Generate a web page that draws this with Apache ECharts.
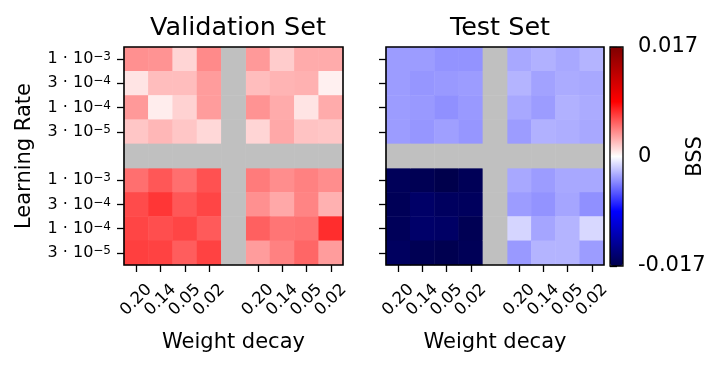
<!DOCTYPE html>
<html>
<head>
<meta charset="utf-8">
<script src="https://cdn.jsdelivr.net/npm/echarts@6/dist/echarts.min.js"></script>
<style>
  html, body { margin: 0; padding: 0; background: #fff; }
  #chart { width: 723px; height: 365px; }
</style>
</head>
<body>
<div id="chart"></div>
<script>
  // tick labels ('' = gap between blocks)
  const weightDecay = ['0.20', '0.14', '0.05', '0.02', '', '0.20', '0.14', '0.05', '0.02'];
  const learningRate = ['1 · 10^−3', '3 · 10^−4', '1 · 10^−4', '3 · 10^−5', '',
                        '1 · 10^−3', '3 · 10^−4', '1 · 10^−4', '3 · 10^−5'];

  // BSS, validation set: 8 rows (top block then bottom block) x 8 cols (left block then right block)
  const validationBss = [
    [0.0037, 0.0036, 0.0014, 0.0039, 0.0034, 0.0017, 0.0028, 0.0028],
    [0.0009, 0.0022, 0.0022, 0.0033, 0.0022, 0.0025, 0.0026, 0.0005],
    [0.0034, 0.0006, 0.0015, 0.0033, 0.0036, 0.0028, 0.0009, 0.0028],
    [0.0019, 0.0024, 0.0019, 0.0013, 0.0014, 0.0029, 0.0020, 0.0019],
    [0.0048, 0.0056, 0.0048, 0.0058, 0.0044, 0.0038, 0.0042, 0.0038],
    [0.0060, 0.0067, 0.0056, 0.0062, 0.0037, 0.0029, 0.0041, 0.0026],
    [0.0062, 0.0059, 0.0062, 0.0055, 0.0053, 0.0046, 0.0047, 0.0070],
    [0.0064, 0.0063, 0.0054, 0.0063, 0.0033, 0.0042, 0.0051, 0.0033]
  ];

  // BSS, test set
  const testBss = [
    [-0.0033, -0.0033, -0.0036, -0.0036, -0.0029, -0.0026, -0.0029, -0.0025],
    [-0.0033, -0.0035, -0.0034, -0.0033, -0.0025, -0.0031, -0.0028, -0.0029],
    [-0.0033, -0.0034, -0.0037, -0.0034, -0.0029, -0.0033, -0.0026, -0.0028],
    [-0.0033, -0.0035, -0.0032, -0.0035, -0.0033, -0.0026, -0.0027, -0.0029],
    [-0.0164, -0.0166, -0.0170, -0.0165, -0.0029, -0.0033, -0.0029, -0.0029],
    [-0.0165, -0.0157, -0.0161, -0.0162, -0.0033, -0.0036, -0.0030, -0.0037],
    [-0.0164, -0.0156, -0.0158, -0.0166, -0.0014, -0.0030, -0.0025, -0.0013],
    [-0.0161, -0.0166, -0.0168, -0.0165, -0.0034, -0.0025, -0.0025, -0.0033]
  ];

  const bssMin = -0.017;
  const bssMax = 0.017;

  const FONT = 'DejaVu Sans';
  const GAP = 4;  // index of the grey separator row / column

  // map the 8x8 blocks onto the 9x9 category grid
  function toCells(rows) {
    const out = [];
    rows.forEach((row, r) => {
      row.forEach((v, c) => {
        out.push([c < GAP ? c : c + 1, r < GAP ? r : r + 1, v]);
      });
    });
    return out;
  }

  // the grey cross between the blocks
  function gapCells() {
    const out = [];
    for (let i = 0; i < 9; i++) {
      for (let j = 0; j < 9; j++) {
        if (i === GAP || j === GAP) out.push([i, j, 0]);
      }
    }
    return out;
  }

  const tickShown = (idx, val) => val !== '';

  function heatX(gridIndex) {
    return {
      type: 'category', gridIndex: gridIndex, data: weightDecay,
      axisLine: { show: false },
      axisTick: { show: true, alignWithLabel: true, interval: tickShown, length: 7,
                  lineStyle: { color: '#000', width: 1.3 } },
      axisLabel: { interval: tickShown, rotate: 45, margin: 35, align: 'center',
                   verticalAlign: 'middle', showMinLabel: true, showMaxLabel: true,
                   hideOverlap: false,
                   color: '#000', fontFamily: FONT, fontSize: 16.5 },
      splitLine: { show: false },
      name: 'Weight decay', nameLocation: 'middle', nameGap: 67, nameMoveOverlap: false,
      nameTextStyle: { fontFamily: FONT, fontSize: 21, color: '#000' }
    };
  }

  function heatY(gridIndex, withLabels) {
    return {
      type: 'category', gridIndex: gridIndex, data: learningRate, inverse: true,
      axisLine: { show: false },
      axisTick: { show: true, alignWithLabel: true, interval: tickShown, length: 7,
                  lineStyle: { color: '#000', width: 1.3 } },
      axisLabel: {
        show: withLabels, interval: tickShown, margin: 13, color: '#000',
        formatter: v => {
          const p = v.split('^');
          return '{b|' + p[0] + '}{s|' + p[1] + '}';
        },
        rich: {
          b: { fontFamily: FONT, fontSize: 16, lineHeight: 16, verticalAlign: 'bottom', color: '#000' },
          s: { fontFamily: FONT, fontSize: 12, lineHeight: 12, verticalAlign: 'top', color: '#000',
               padding: [0, 0, 3, 0] }
        }
      },
      splitLine: { show: false },
      name: withLabels ? 'Learning Rate' : '', nameLocation: 'middle', nameGap: 89,
      nameMoveOverlap: false,
      nameTextStyle: { fontFamily: FONT, fontSize: 21, color: '#000' }
    };
  }

  function heatSeries(idx, rows) {
    return {
      type: 'heatmap', xAxisIndex: idx, yAxisIndex: idx,
      data: toCells(rows),
      itemStyle: { borderWidth: 0 },
      emphasis: { disabled: true },
      progressive: 0
    };
  }

  function gapSeries(idx) {
    return {
      type: 'heatmap', xAxisIndex: idx, yAxisIndex: idx,
      data: gapCells(),
      itemStyle: { color: '#c0c0c0', borderWidth: 0 },
      emphasis: { disabled: true },
      progressive: 0
    };
  }

  // frame drawn above the cells
  const frame = { show: true, z: 10, top: 47, height: 218, backgroundColor: 'transparent',
                  borderColor: '#000', borderWidth: 1.6 };

  const chart = echarts.init(document.getElementById('chart'), null, { renderer: 'canvas' });

  chart.setOption({
    backgroundColor: '#fff',
    animation: false,
    title: [
      { text: 'Validation Set', left: 233, top: 10, textAlign: 'center',
        textStyle: { fontFamily: FONT, fontSize: 25.5, fontWeight: 'normal', color: '#000' } },
      { text: 'Test Set', left: 495, top: 10, textAlign: 'center',
        textStyle: { fontFamily: FONT, fontSize: 25.5, fontWeight: 'normal', color: '#000' } }
    ],
    grid: [
      Object.assign({ left: 124, width: 219 }, frame),
      Object.assign({ left: 386, width: 218 }, frame),
      { show: true, z: 10, left: 610, width: 13, top: 47, height: 219,
        backgroundColor: 'transparent', borderColor: '#000', borderWidth: 1.3 }
    ],
    xAxis: [
      heatX(0),
      heatX(1),
      { type: 'value', gridIndex: 2, min: 0, max: 1, show: false }
    ],
    yAxis: [
      heatY(0, true),
      heatY(1, false),
      {
        type: 'value', gridIndex: 2, position: 'right',
        min: bssMin, max: bssMax, interval: bssMax,
        axisLine: { show: false },
        axisTick: { show: true, length: 7, lineStyle: { color: '#000', width: 1.3 } },
        splitLine: { show: false },
        axisLabel: { margin: 15, align: 'left', color: '#000', fontFamily: FONT, fontSize: 21,
                     formatter: v => Math.abs(v) < 1e-9 ? '0' : v.toFixed(3) },
        name: 'BSS', nameLocation: 'middle', nameGap: 62, nameRotate: 90,
        nameMoveOverlap: false,
        nameTextStyle: { fontFamily: FONT, fontSize: 21, color: '#000' }
      }
    ],
    visualMap: {
      type: 'continuous',
      seriesIndex: [0, 1],
      min: bssMin, max: bssMax,
      calculable: false,
      hoverLink: false,
      orient: 'vertical',
      left: 610, top: 47,
      itemWidth: 13, itemHeight: 219,
      padding: 0,
      text: null,
      showLabel: false,
      inRange: { color: ['#00004c', '#0000ff', '#ffffff', '#ff0000', '#7f0000'] }
    },
    series: [
      heatSeries(0, validationBss),
      heatSeries(1, testBss),
      gapSeries(0),
      gapSeries(1)
    ]
  });
</script>
</body>
</html>
